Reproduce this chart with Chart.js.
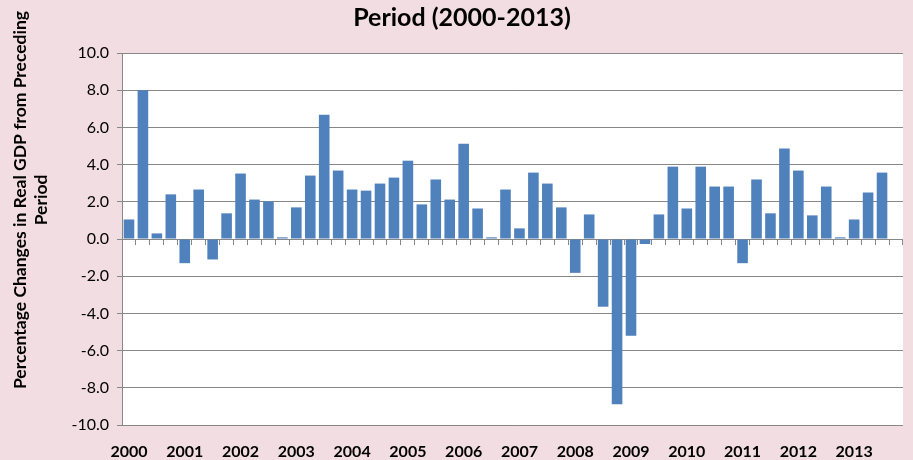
<!DOCTYPE html>
<html>
<head>
<meta charset="utf-8">
<script src="https://cdn.jsdelivr.net/npm/chart.js@4/dist/chart.umd.min.js"></script>
<style>
html,body{margin:0;padding:0;background:#F2DDE2;}
#wrap{width:913px;height:460px;position:relative;}
</style>
</head>
<body>
<div id="wrap"><canvas id="c" width="913" height="460"></canvas></div>
<script>
const chartTitle = 'Period (2000-2013)';
const yTitleLines = ['Percentage Changes in Real GDP from Preceding', 'Period'];
const years = ['2000','2001','2002','2003','2004','2005','2006','2007','2008','2009','2010','2011','2012','2013'];
const quarterNames = ['Q1','Q2','Q3','Q4'];
const categories = years.flatMap(y => quarterNames.map(q => y + ' ' + q));
const gdpChange = [
  1.05, 8.0, 0.3, 2.4,
  -1.3, 2.66, -1.1, 1.38,
  3.52, 2.12, 2.02, 0.09,
  1.7, 3.41, 6.68, 3.68,
  2.66, 2.6, 2.98, 3.3,
  4.21, 1.86, 3.2, 2.12,
  5.12, 1.64, 0.09, 2.66,
  0.57, 3.57, 2.98, 1.7,
  -1.82, 1.32, -3.64, -8.89,
  -5.2, -0.27, 1.32, 3.89,
  1.64, 3.89, 2.82, 2.82,
  -1.3, 3.2, 1.38, 4.86,
  3.68, 1.27, 2.82, 0.09,
  1.05, 2.5, 3.57, null
];
const yMin = -10, yMax = 10, yStep = 2;

const gridColor = '#878787';
const barColor = '#4F81BD';

const bgPlugin = {
  id: 'bg',
  beforeDraw(chart) {
    const ctx = chart.ctx, a = chart.chartArea;
    ctx.save();
    ctx.fillStyle = '#F2DDE2';
    ctx.fillRect(0, 0, chart.width, chart.height);
    ctx.fillStyle = '#FFFFFF';
    ctx.fillRect(a.left, a.top, a.right - a.left, a.bottom - a.top);
    ctx.restore();
  },
  afterDraw(chart) {
    const ctx = chart.ctx;
    ctx.save();
    ctx.fillStyle = '#000';
    ctx.textAlign = 'center';
    ctx.textBaseline = 'middle';
    ctx.font = 'bold 25px Lato';
    ctx.fillText(chartTitle, 462, 18);
    ctx.translate(30, 200);
    ctx.rotate(-Math.PI / 2);
    ctx.font = 'bold 17.5px Lato';
    ctx.fillText(yTitleLines[0], 0, -10);
    ctx.fillText(yTitleLines[1], 0, 11);
    ctx.restore();
  }
};

new Chart(document.getElementById('c'), {
  type: 'bar',
  data: {
    labels: categories,
    datasets: [{
      data: gdpChange,
      backgroundColor: barColor,
      borderWidth: 0,
      categoryPercentage: 1.0,
      barPercentage: 0.76,
      xAxisID: 'x',
      yAxisID: 'y'
    }]
  },
  options: {
    responsive: false,
    animation: false,
    layout: { padding: { top: 53, right: 3, left: 0, bottom: 0 } },
    plugins: { legend: { display: false }, title: { display: false }, tooltip: { enabled: false } },
    scales: {
      x: {
        type: 'category',
        position: { y: 0 },
        offset: true,
        grid: { offset: true, drawOnChartArea: false, drawTicks: true, tickLength: 5, color: gridColor },
        border: { display: true, color: gridColor },
        ticks: { display: false }
      },
      x2: {
        type: 'category',
        labels: categories,
        position: 'bottom',
        offset: true,
        grid: { display: false, drawTicks: false },
        border: { display: false },
        ticks: {
          autoSkip: false,
          maxRotation: 0,
          padding: 17,
          color: '#000',
          font: { family: 'Lato', size: 16, weight: 'bold' },
          callback: (v, i) => (i % 4 === 0 ? years[i / 4] : '')
        },
        afterFit(scale) { scale.height = 35; }
      },
      y: {
        min: yMin,
        max: yMax,
        position: 'left',
        ticks: {
          stepSize: yStep,
          padding: 8,
          color: '#000',
          font: { family: 'Lato', size: 16 },
          callback: v => Number(v).toFixed(1)
        },
        grid: { color: gridColor, tickLength: 5, drawTicks: true },
        border: { display: true, color: gridColor },
        afterFit(scale) { scale.width = 122; }
      }
    }
  },
  plugins: [bgPlugin]
});
</script>
</body>
</html>
